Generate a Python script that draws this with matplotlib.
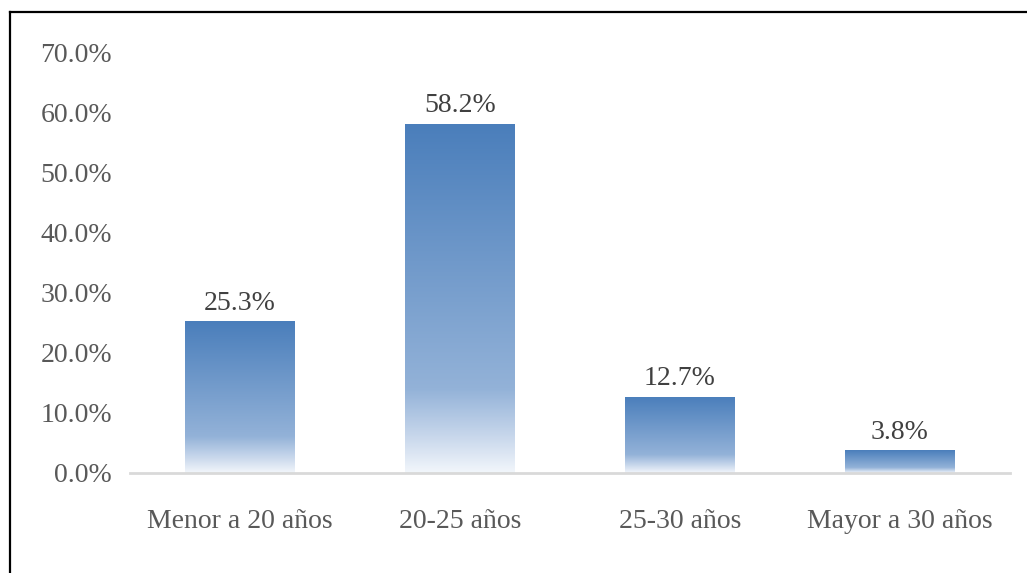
import matplotlib
matplotlib.use("Agg")
import matplotlib.pyplot as plt
import numpy as np
from matplotlib.colors import LinearSegmentedColormap
from matplotlib.lines import Line2D

categories = ["Menor a 20 años", "20-25 años", "25-30 años", "Mayor a 30 años"]
values = [25.3, 58.2, 12.7, 3.8]
yticks = [0, 10, 20, 30, 40, 50, 60, 70]

fam = ['Liberation Serif', 'DejaVu Serif']
plt.rcParams['font.family'] = fam

fig = plt.figure(figsize=(10.27, 5.73), dpi=100)
ax = fig.add_axes([130/1027, 100/573, 880/1027, 420/573])

cmap = LinearSegmentedColormap.from_list(
    "grad", [(0.0, "#f2f6fb"), (0.10, "#c9d8ec"), (0.24, "#93b2d8"), (1.0, "#4a7ebb")])

bars = ax.bar(range(len(values)), values, width=0.5, color="none", edgecolor="none")
grad = np.linspace(0, 1, 256).reshape(-1, 1)
for b in bars:
    x0, w, h = b.get_x(), b.get_width(), b.get_height()
    im = ax.imshow(grad, cmap=cmap, origin="lower", aspect="auto",
                   extent=(x0, x0 + w, 0, h), zorder=2)
    im.set_clip_path(b)

for i, v in enumerate(values):
    ax.text(i, v + 0.9, f"{v:.1f}%", ha="center", va="bottom",
            fontsize=20, color="#404040")

ax.set_xlim(-0.5, 3.5)
ax.set_ylim(0, 70)
ax.set_yticks(yticks)
ax.set_yticklabels([f"{t:.1f}%" for t in yticks])
ax.set_xticks(range(len(categories)))
ax.set_xticklabels(categories)
ax.tick_params(axis="y", length=0, pad=13, labelsize=20, labelcolor="#595959")
ax.tick_params(axis="x", length=0, pad=26, labelsize=20, labelcolor="#595959")
for s in ["left", "right", "top"]:
    ax.spines[s].set_visible(False)
ax.spines["bottom"].set_color("#d9d9d9")
ax.spines["bottom"].set_linewidth(2)
ax.spines["bottom"].set_zorder(3)

fig.add_artist(Line2D([9.5/1027, 9.5/1027], [0, 1 - 12/573], transform=fig.transFigure,
                      color="black", linewidth=1.6))
fig.add_artist(Line2D([9.5/1027, 1], [1 - 12/573, 1 - 12/573], transform=fig.transFigure,
                      color="black", linewidth=1.6))

fig.savefig("out.png", dpi=100)
